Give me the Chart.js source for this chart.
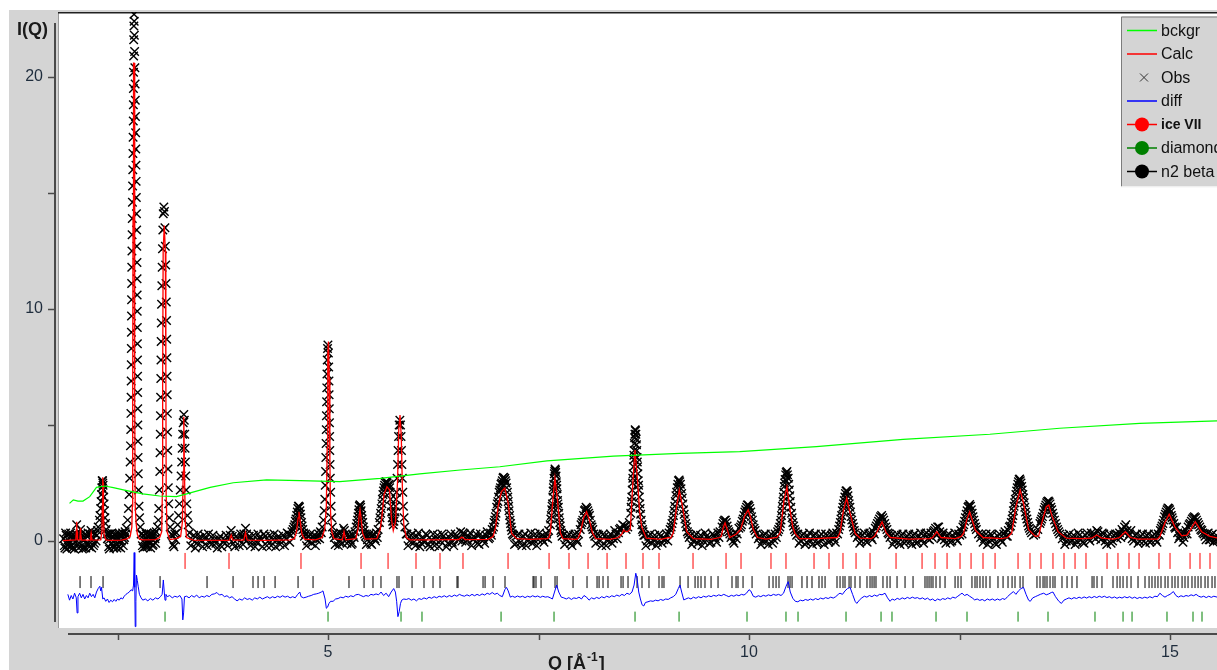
<!DOCTYPE html>
<html>
<head>
<meta charset="utf-8">
<script src="https://cdn.jsdelivr.net/npm/chart.js@4.4.1/dist/chart.umd.min.js"></script>
<style>
  html, body { margin: 0; padding: 0; background: #fff; }
  canvas { display: block; }
</style>
</head>
<body>
<canvas id="plot" width="1217" height="670"></canvas>
<script>
// axis ranges (Q in 1/Å, intensity I(Q))
const qRange = [1.793, 15.558];
const iRange = [-3.75, 22.8];

// background curve [Q, I]
const bckgr = [
  [1.93,1.62],[1.975,1.77],[2.03,1.72],[2.09,1.72],[2.17,1.91],[2.25,2.31],[2.35,2.37],[2.45,2.3],
  [2.61,2.17],[2.8,2.03],[3.0,1.94],[3.2,1.91],[3.32,2.03],[3.6,2.31],[3.875,2.51],[4.27,2.63],
  [4.67,2.6],[5.14,2.56],[5.62,2.7],[6.09,2.89],[6.57,3.06],[7.04,3.2],[7.6,3.45],[8.39,3.66],
  [9.18,3.78],[9.89,3.85],[10.8,4.07],[11.83,4.38],[12.86,4.6],[13.69,4.86],[14.64,5.07],[15.56,5.18]
];

// calculated pattern [Q, I]
const calc = [
  [1.85,0.02],[2.005,0.05],[2.012,0.5],[2.015,0.83],[2.019,0.4],[2.025,0.05],
  [2.052,0.05],[2.058,0.4],[2.061,0.56],[2.065,0.3],[2.072,0.04],
  [2.175,0.04],[2.182,0.25],[2.186,0.34],[2.19,0.2],[2.198,0.04],
  [2.3,0.05],[2.315,0.4],[2.32,1.5],[2.324,2.75],[2.329,2.5],[2.333,1.2],[2.34,0.3],[2.36,0.05],
  [2.4,0.03],[2.55,0.04],[2.62,0.1],[2.65,0.2],[2.67,0.6],[2.676,1.5],[2.68,6],[2.684,14],[2.69,20.6],
  [2.696,20.6],[2.702,14],[2.706,6],[2.71,1.5],[2.72,0.8],[2.735,0.3],[2.76,0.08],
  [2.8,0.05],[2.95,0.06],[3.0,0.15],[3.025,0.4],[3.032,2],[3.036,7],[3.042,12.5],[3.055,13.6],
  [3.068,12.5],[3.074,7],[3.078,2],[3.088,0.4],[3.12,0.06],[3.2,0.1],
  [3.25,0.2],[3.27,0.8],[3.28,3],[3.287,5.35],[3.295,3],[3.305,0.8],[3.32,0.15],
  [3.4,0.04],[3.8,0.03],[3.83,0.04],[3.85,0.26],[3.87,0.04],[4.0,0.04],[4.02,0.36],[4.04,0.04],
  [4.3,0.03],[4.55,0.05],[4.6,0.1],[4.625,0.4],[4.645,1.0],[4.655,1.26],[4.668,0.9],[4.69,0.3],[4.72,0.08],
  [4.85,0.05],[4.93,0.15],[4.96,0.5],[4.98,1.5],[4.99,4],[4.997,8],[5.005,8.6],[5.015,7],[5.022,3.5],
  [5.03,1.2],[5.045,0.4],[5.07,0.1],[5.17,0.05],[5.19,0.4],[5.21,0.05],
  [5.33,0.1],[5.355,0.5],[5.37,1.1],[5.38,1.34],[5.392,1.0],[5.41,0.35],[5.44,0.08],
  [5.58,0.1],[5.62,0.5],[5.64,1.05],[5.665,2.0],[5.7,2.34],[5.73,2.2],[5.755,0.9],[5.775,0.45],
  [5.8,0.8],[5.825,2.5],[5.84,4.8],[5.855,5.43],[5.87,4.5],[5.885,2],[5.9,0.7],[5.93,0.15],[5.97,0.05],
  [6.2,0.05],[6.5,0.06],[6.55,0.06],[6.59,0.17],[6.63,0.06],[6.9,0.07],
  [6.96,0.19],[6.99,0.6],[7.02,1.48],[7.06,2.13],[7.1,2.28],[7.14,1.62],[7.165,0.8],[7.18,0.33],[7.24,0.1],
  [7.4,0.07],[7.6,0.1],[7.62,0.12],[7.64,0.35],[7.67,1.77],[7.695,2.71],[7.725,1.77],[7.76,0.35],[7.79,0.1],
  [7.95,0.07],[7.97,0.12],[8.0,0.4],[8.035,1.0],[8.07,1.26],[8.105,0.9],[8.14,0.35],[8.18,0.1],
  [8.35,0.07],[8.45,0.15],[8.49,0.3],[8.51,0.47],[8.535,0.4],[8.555,0.4],[8.59,0.5],[8.62,2.5],
  [8.646,3.92],[8.678,2.5],[8.7,1.3],[8.726,0.6],[8.78,0.12],
  [8.95,0.07],[9.05,0.15],[9.07,0.12],[9.1,0.35],[9.14,1.48],[9.172,2.2],[9.21,1.48],[9.26,0.4],[9.34,0.1],
  [9.55,0.07],[9.65,0.15],[9.67,0.2],[9.695,0.6],[9.715,0.78],[9.74,0.5],[9.77,0.15],
  [9.85,0.3],[9.9,0.5],[9.95,1.1],[9.99,1.34],[10.02,1.0],[10.05,0.5],[10.1,0.15],[10.2,0.08],
  [10.33,0.15],[10.37,0.35],[10.416,1.77],[10.45,2.33],[10.487,1.34],[10.52,0.6],[10.546,0.33],[10.6,0.1],
  [10.8,0.1],[11.05,0.15],[11.08,0.35],[11.12,1.3],[11.16,1.85],[11.2,1.2],[11.26,0.33],[11.32,0.12],
  [11.45,0.1],[11.49,0.2],[11.52,0.4],[11.58,0.83],[11.63,0.35],[11.68,0.15],
  [11.9,0.08],[12.15,0.1],[12.18,0.15],[12.23,0.4],[12.28,0.15],[12.45,0.1],
  [12.52,0.2],[12.55,0.35],[12.585,0.9],[12.62,1.26],[12.655,0.85],[12.69,0.45],[12.78,0.15],
  [13.0,0.1],[13.07,0.15],[13.12,0.35],[13.17,1.48],[13.22,2.2],[13.26,1.62],[13.32,0.5],[13.4,0.2],[13.44,0.22],
  [13.475,0.75],[13.53,1.48],[13.56,1.55],[13.6,1.06],[13.67,0.4],[13.77,0.12],
  [13.95,0.1],[14.07,0.12],[14.13,0.26],[14.19,0.12],[14.33,0.08],[14.4,0.15],[14.47,0.4],[14.53,0.15],[14.62,0.08],
  [14.85,0.08],[14.88,0.2],[14.94,0.8],[14.99,1.15],[15.06,0.6],[15.14,0.22],[15.2,0.25],
  [15.24,0.47],[15.3,0.83],[15.375,0.4],[15.475,0.2],[15.56,0.13]
];

// observed points [Q, I]
const obs = [
  [1.86,0.1],[1.875,-0.3],[1.89,0.25],[1.905,-0.15],[1.92,0.3],[1.935,-0.1],[1.95,0.2],[1.965,-0.3],[1.98,0.15],
  [1.995,-0.05],[2.005,0.3],[2.015,0.7],[2.03,-0.15],[2.045,0.25],[2.06,0.5],[2.075,-0.2],[2.09,0.1],
  [2.1,-0.3],[2.115,0.3],[2.13,-0.1],[2.15,0.35],[2.165,-0.25],[2.185,0.45],[2.2,0.1],[2.215,-0.2],
  [2.235,0.3],[2.255,0.25],[2.27,0.6],[2.285,0.9],[2.3,1.4],[2.31,2.0],[2.318,2.6],[2.325,2.5],
  [2.332,2.2],[2.34,1.6],[2.35,1.0],[2.365,0.5],[2.38,0.1],[2.395,-0.25],[2.41,0.3],[2.425,-0.1],
  [2.44,0.2],[2.455,-0.3],[2.47,0.25],[2.485,-0.15],[2.5,0.1],[2.515,-0.25],[2.53,0.3],[2.545,0.0],
  [2.56,0.35],[2.575,0.05],[2.59,0.4],[2.605,0.55],[2.62,0.9],
  [2.63,1.4],[2.638,2.0],[2.645,2.7],[2.65,3.4],[2.654,4.1],[2.657,4.8],[2.659,5.5],[2.661,6.2],
  [2.662,6.9],[2.663,7.6],[2.664,8.3],[2.665,9.0],[2.666,9.7],[2.667,10.4],[2.668,11.1],[2.669,11.8],
  [2.671,12.5],[2.673,13.2],[2.675,13.9],[2.677,14.6],[2.679,15.3],[2.681,16.0],[2.683,16.7],[2.685,17.4],
  [2.687,18.1],[2.688,18.8],[2.689,19.5],[2.69,20.2],[2.691,20.9],[2.692,21.6],[2.694,22.2],[2.696,22.7],
  [2.698,22.4],[2.7,21.8],[2.703,21.1],[2.706,20.4],[2.709,19.7],[2.711,19.0],[2.713,18.3],[2.715,17.6],
  [2.717,16.9],[2.719,16.2],[2.721,15.5],[2.723,14.8],[2.725,14.1],[2.727,13.4],[2.729,12.7],[2.731,12.0],
  [2.732,11.3],[2.733,10.6],[2.734,9.9],[2.735,9.2],[2.736,8.5],[2.737,7.8],[2.738,7.1],[2.739,6.4],
  [2.74,5.7],[2.741,5.0],[2.742,4.3],[2.744,3.6],[2.746,2.9],[2.75,2.2],[2.755,1.5],[2.762,1.0],[2.77,0.6],[2.78,0.3],
  [2.795,-0.2],[2.81,0.25],[2.825,-0.1],[2.84,0.3],[2.855,-0.25],[2.87,0.15],[2.885,-0.05],[2.9,0.3],
  [2.915,-0.2],[2.93,0.25],[2.945,0.1],[2.96,0.4],[2.975,0.6],[2.985,0.9],
  [2.99,1.4],[2.997,2.2],[3.002,3.0],[3.005,3.8],[3.008,4.6],[3.01,5.4],[3.012,6.2],[3.014,7.0],
  [3.016,7.8],[3.018,8.6],[3.02,9.4],[3.023,10.2],[3.026,11.0],[3.03,11.8],[3.034,12.6],[3.038,13.4],
  [3.043,14.1],[3.05,14.4],[3.057,14.2],[3.063,13.5],[3.068,12.7],[3.072,11.9],[3.076,11.1],[3.079,10.3],
  [3.082,9.5],[3.084,8.7],[3.086,7.9],[3.088,7.1],[3.09,6.3],[3.092,5.5],[3.094,4.7],[3.096,3.9],
  [3.099,3.1],[3.103,2.3],[3.108,1.6],[3.115,1.0],[3.125,0.6],[3.14,0.3],
  [3.16,-0.15],[3.18,0.3],[3.2,0.35],[3.215,0.7],
  [3.225,1.1],[3.235,1.6],[3.245,2.2],[3.255,2.8],[3.262,3.4],[3.268,4.0],[3.274,4.6],[3.28,5.1],
  [3.287,5.45],[3.293,5.2],[3.298,4.6],[3.302,4.0],[3.306,3.4],[3.31,2.8],[3.315,2.2],[3.322,1.6],
  [3.33,1.1],[3.34,0.7],[3.355,0.35],
  [3.37,-0.2],[3.405,0.25],[3.44,-0.1],[3.475,0.15],[3.51,-0.25],[3.545,0.1],[3.58,0.3],[3.615,-0.15],
  [3.65,0.05],[3.685,-0.3],[3.72,0.2],[3.755,-0.05],[3.79,0.25],[3.825,0.1],[3.85,0.45],[3.875,-0.1],
  [3.91,0.2],[3.945,-0.2],[3.98,0.15],[4.0,0.3],[4.02,0.55],[4.045,0.05],[4.08,-0.2],[4.115,0.25],
  [4.15,-0.05],[4.185,0.15],[4.22,-0.25],[4.255,0.2],[4.29,0.0],[4.325,-0.2],[4.36,0.3],[4.395,0.05],
  [4.43,-0.15],[4.465,0.25],[4.5,0.1],[4.53,0.3],[4.56,0.25],
  [4.585,0.5],[4.605,0.7],[4.62,0.95],[4.635,1.25],[4.648,1.5],[4.66,1.45],[4.672,1.15],[4.685,0.8],[4.7,0.5],[4.72,0.2],
  [4.745,-0.2],[4.775,0.2],[4.805,-0.1],[4.835,0.25],[4.865,0.05],[4.89,0.3],[4.91,0.4],[4.93,0.6],[4.945,0.9],
  [4.955,1.3],[4.962,1.8],[4.967,2.4],[4.971,3.0],[4.974,3.6],[4.977,4.2],[4.979,4.8],[4.981,5.4],
  [4.983,6.0],[4.985,6.6],[4.987,7.2],[4.99,7.8],[4.994,8.3],[4.999,8.45],[5.004,8.1],[5.008,7.5],
  [5.011,6.9],[5.013,6.3],[5.015,5.7],[5.017,5.1],[5.019,4.5],[5.021,3.9],[5.024,3.3],[5.027,2.7],
  [5.031,2.1],[5.036,1.5],[5.043,1.0],[5.052,0.6],[5.065,0.3],
  [5.085,-0.15],[5.11,0.25],[5.135,-0.05],[5.16,0.2],[5.185,0.55],[5.205,0.3],[5.225,-0.1],[5.25,0.2],
  [5.275,-0.15],[5.3,0.25],[5.32,0.4],
  [5.335,0.6],[5.35,0.9],[5.362,1.2],[5.372,1.5],[5.383,1.55],[5.393,1.3],[5.405,0.95],[5.42,0.6],[5.435,0.3],
  [5.455,-0.15],[5.48,0.2],[5.505,-0.1],[5.53,0.25],[5.555,0.1],[5.575,0.35],[5.595,0.5],
  [5.61,0.8],[5.625,1.2],[5.64,1.6],[5.652,2.0],[5.665,2.3],[5.68,2.5],[5.695,2.55],[5.71,2.4],
  [5.725,2.45],[5.738,2.1],[5.75,1.5],[5.762,1.0],[5.775,0.7],[5.79,1.0],[5.802,1.5],[5.812,2.1],
  [5.82,2.7],[5.826,3.3],[5.832,3.9],[5.838,4.5],[5.845,5.0],[5.853,5.2],[5.861,5.0],[5.867,4.5],
  [5.872,3.9],[5.877,3.3],[5.882,2.7],[5.888,2.1],[5.895,1.5],[5.903,1.0],[5.913,0.6],[5.928,0.3],
  [5.95,-0.2],[5.985,0.25],[6.02,-0.05],[6.055,0.2],[6.09,-0.25],[6.125,0.1],[6.16,0.3],[6.195,-0.15],
  [6.23,0.05],[6.265,-0.2],[6.3,0.25],[6.335,0.0],[6.37,0.2],[6.405,-0.25],[6.44,0.15],[6.475,-0.05],
  [6.51,0.3],[6.545,0.05],[6.575,0.4],[6.605,0.35],[6.635,-0.05],[6.67,0.2],[6.705,-0.2],[6.74,0.15],
  [6.775,-0.1],[6.81,0.3],[6.845,0.05],[6.875,0.25],[6.905,0.1],[6.93,0.35],[6.95,0.5],
  [6.965,0.6],[6.98,0.9],[6.995,1.2],[7.01,1.6],[7.025,1.9],[7.04,2.2],[7.055,2.45],[7.07,2.6],
  [7.085,2.75],[7.1,2.7],[7.115,2.5],[7.13,2.1],[7.14,1.7],[7.15,1.3],[7.162,0.9],[7.175,0.6],[7.19,0.3],
  [7.215,-0.15],[7.25,0.25],[7.285,-0.05],[7.32,0.2],[7.355,-0.2],[7.39,0.15],[7.425,-0.1],[7.46,0.3],
  [7.495,0.05],[7.53,0.2],[7.565,-0.05],[7.595,0.3],[7.62,0.45],
  [7.64,0.7],[7.652,1.1],[7.662,1.5],[7.67,1.9],[7.677,2.3],[7.684,2.7],[7.692,3.0],[7.7,3.05],
  [7.708,2.8],[7.715,2.4],[7.722,2.0],[7.73,1.6],[7.74,1.2],[7.752,0.8],[7.765,0.45],[7.78,0.2],
  [7.81,-0.15],[7.845,0.2],[7.88,-0.1],[7.915,0.25],[7.95,0.05],[7.975,0.3],
  [7.995,0.5],[8.015,0.8],[8.035,1.1],[8.055,1.35],[8.075,1.4],[8.095,1.2],[8.115,0.9],[8.135,0.6],[8.155,0.3],
  [8.18,-0.1],[8.215,0.25],[8.25,-0.2],[8.285,0.2],[8.32,0.0],[8.355,0.3],[8.39,0.1],[8.42,0.3],[8.45,0.35],
  [8.475,0.55],[8.5,0.7],[8.52,0.65],[8.54,0.5],[8.56,0.6],[8.578,0.8],[8.595,1.2],[8.605,1.7],
  [8.613,2.2],[8.62,2.7],[8.627,3.2],[8.633,3.7],[8.639,4.2],[8.645,4.6],[8.652,4.75],[8.66,4.4],
  [8.667,3.9],[8.673,3.4],[8.68,2.9],[8.688,2.4],[8.697,1.9],[8.707,1.4],[8.72,0.9],[8.735,0.5],[8.75,0.25],
  [8.775,-0.2],[8.81,0.2],[8.845,-0.1],[8.88,0.25],[8.915,-0.05],[8.95,0.2],[8.985,0.05],[9.02,0.3],[9.05,0.35],
  [9.075,0.6],[9.095,0.9],[9.11,1.3],[9.125,1.7],[9.14,2.1],[9.155,2.45],[9.17,2.63],[9.185,2.45],
  [9.2,2.05],[9.215,1.6],[9.23,1.15],[9.248,0.75],[9.268,0.4],[9.29,0.15],
  [9.32,-0.15],[9.355,0.2],[9.39,-0.1],[9.425,0.25],[9.46,0.0],[9.495,0.2],[9.53,-0.1],[9.565,0.3],
  [9.6,0.1],[9.63,0.35],[9.655,0.4],
  [9.68,0.6],[9.7,0.85],[9.72,0.9],[9.74,0.65],[9.76,0.4],[9.785,0.15],
  [9.81,0.0],[9.835,0.35],[9.86,0.3],[9.88,0.55],[9.9,0.6],[9.92,0.85],[9.94,1.1],[9.96,1.35],
  [9.98,1.55],[10.0,1.5],[10.02,1.25],[10.04,0.9],[10.06,0.55],[10.085,0.3],[10.11,0.1],
  [10.14,-0.15],[10.175,0.25],[10.21,0.0],[10.245,0.2],[10.28,-0.1],[10.31,0.3],[10.34,0.4],
  [10.365,0.6],[10.38,0.9],[10.392,1.3],[10.403,1.7],[10.413,2.1],[10.423,2.5],[10.435,2.85],[10.45,3.0],
  [10.465,2.7],[10.478,2.2],[10.49,1.7],[10.505,1.2],[10.52,0.8],[10.54,0.5],[10.565,0.25],
  [10.595,-0.1],[10.63,0.25],[10.665,-0.15],[10.7,0.2],[10.735,0.0],[10.77,0.25],[10.805,-0.1],[10.84,0.2],
  [10.875,0.05],[10.91,0.3],[10.945,-0.05],[10.98,0.25],[11.01,0.1],[11.04,0.35],
  [11.065,0.5],[11.085,0.8],[11.1,1.1],[11.115,1.45],[11.13,1.75],[11.145,2.05],[11.16,2.17],[11.175,1.95],
  [11.19,1.6],[11.205,1.25],[11.22,0.9],[11.24,0.6],[11.26,0.35],[11.285,0.15],
  [11.315,-0.1],[11.35,0.25],[11.385,0.0],[11.42,0.3],[11.45,0.15],[11.475,0.4],
  [11.5,0.55],[11.525,0.75],[11.55,0.95],[11.575,1.1],[11.6,0.9],[11.625,0.6],[11.65,0.35],[11.675,0.15],
  [11.705,-0.15],[11.74,0.2],[11.775,-0.05],[11.81,0.25],[11.845,-0.1],[11.88,0.2],[11.915,0.0],[11.95,0.25],
  [11.985,-0.1],[12.02,0.2],[12.055,0.05],[12.09,0.3],[12.125,0.1],[12.16,0.35],[12.19,0.4],[12.215,0.55],
  [12.24,0.6],[12.265,0.4],[12.29,0.2],[12.32,0.05],[12.355,0.25],[12.39,-0.05],[12.425,0.2],[12.46,0.1],
  [12.49,0.3],[12.515,0.45],
  [12.54,0.6],[12.56,0.85],[12.58,1.15],[12.6,1.45],[12.62,1.57],[12.64,1.35],[12.66,1.05],[12.68,0.75],
  [12.7,0.5],[12.725,0.3],[12.75,0.15],
  [12.78,-0.05],[12.815,0.3],[12.85,0.0],[12.885,0.25],[12.92,-0.1],[12.955,0.2],[12.99,0.05],[13.025,0.3],
  [13.055,0.2],[13.08,0.45],
  [13.105,0.65],[13.125,0.95],[13.14,1.3],[13.155,1.65],[13.17,2.0],[13.185,2.3],[13.2,2.55],[13.215,2.67],
  [13.23,2.5],[13.245,2.2],[13.26,1.85],[13.275,1.45],[13.29,1.1],[13.31,0.8],[13.33,0.55],[13.355,0.35],
  [13.38,0.25],[13.405,0.3],[13.43,0.5],
  [13.455,0.75],[13.475,0.95],[13.495,1.2],[13.515,1.45],[13.535,1.65],[13.555,1.72],[13.575,1.6],[13.595,1.35],
  [13.615,1.05],[13.64,0.75],[13.665,0.5],[13.69,0.3],[13.72,0.1],
  [13.75,-0.15],[13.785,0.2],[13.82,-0.05],[13.855,0.25],[13.89,0.0],[13.925,0.25],[13.96,-0.05],[13.995,0.25],
  [14.03,0.1],[14.065,0.35],[14.1,0.3],[14.13,0.45],[14.16,0.2],[14.195,0.35],[14.23,0.0],[14.265,0.2],
  [14.3,-0.1],[14.335,0.25],[14.37,0.1],[14.4,0.35],[14.43,0.5],[14.46,0.6],[14.49,0.45],[14.52,0.3],
  [14.55,0.1],[14.585,0.25],[14.62,-0.1],[14.655,0.2],[14.69,0.0],[14.725,0.25],[14.76,-0.05],[14.795,0.2],
  [14.83,0.05],[14.86,0.3],[14.885,0.45],
  [14.905,0.65],[14.925,0.9],[14.945,1.15],[14.965,1.35],[14.985,1.4],[15.005,1.25],[15.025,1.0],[15.045,0.75],
  [15.065,0.55],[15.09,0.35],[15.115,0.2],[15.14,0.3],[15.165,0.15],[15.19,0.45],
  [15.215,0.6],[15.24,0.75],[15.265,0.95],[15.29,1.05],[15.315,0.9],[15.34,0.7],[15.365,0.5],[15.39,0.35],
  [15.415,0.2],[15.44,0.3],[15.465,0.05],[15.49,0.25],[15.515,-0.05],[15.54,0.15],[15.56,0.0]
];

// further observed points read between the ones above [Q, I]
const obsMore = [
  [1.868,-0.2],[1.883,0.35],[1.898,-0.35],[1.913,0.05],[1.928,-0.25],[1.943,0.35],[1.958,-0.2],[1.973,0.1],
  [1.988,-0.35],[2.0,0.2],[2.023,0.25],[2.038,-0.3],[2.053,0.15],[2.068,0.3],[2.083,-0.35],[2.108,0.05],
  [2.123,-0.3],[2.14,0.2],[2.158,-0.15],[2.175,0.3],[2.193,-0.3],[2.208,0.35],[2.225,-0.1],[2.245,0.0],
  [2.262,0.45],[2.292,1.1],[2.305,1.7],[2.314,2.3],[2.322,2.6],[2.328,2.4],[2.336,1.9],[2.345,1.3],
  [2.357,0.75],[2.372,0.3],[2.39,0.3],[2.403,-0.35],[2.418,0.1],[2.433,0.35],[2.448,-0.2],[2.463,0.05],
  [2.478,0.3],[2.493,-0.3],[2.508,0.3],[2.523,-0.05],[2.538,-0.3],[2.553,0.2],[2.568,-0.2],[2.583,0.15],
  [2.598,0.3],
  [2.788,0.3],[2.803,-0.3],[2.818,0.05],[2.833,-0.25],[2.848,0.35],[2.863,-0.05],[2.878,0.3],[2.893,-0.3],
  [2.908,0.1],[2.923,-0.15],[2.938,0.35],[2.953,-0.1],[3.15,0.25],[3.17,-0.25],[3.19,0.05],
  [3.388,0.05],[3.423,-0.3],[3.458,0.3],[3.493,0.0],[3.528,0.25],[3.563,-0.2],[3.598,0.0],[3.633,0.25],
  [3.668,-0.1],[3.703,0.1],[3.738,-0.25],[3.773,0.05],[3.808,-0.2],[3.838,0.25],[3.863,0.2],[3.893,-0.25],
  [3.928,0.1],[3.963,0.3],[3.99,-0.15],[4.01,0.1],[4.033,0.3],[4.063,0.2],[4.098,0.0],[4.133,-0.25],
  [4.168,0.3],[4.203,0.05],[4.238,0.3],[4.273,-0.2],[4.308,0.25],[4.343,0.05],[4.378,-0.25],[4.413,0.2],
  [4.448,0.05],[4.483,-0.2],[4.515,0.35],[4.545,-0.05],[4.572,0.4],
  [4.595,0.6],[4.612,0.85],[4.628,1.1],[4.642,1.4],[4.654,1.5],[4.666,1.3],[4.678,1.0],[4.692,0.65],[4.71,0.35],
  [4.733,0.3],[4.76,0.0],[4.79,0.3],[4.82,0.15],[4.85,-0.2],[4.878,0.15],[4.9,0.1],[4.92,0.35],
  [5.075,0.15],[5.098,0.3],[5.123,-0.2],[5.148,0.35],[5.172,-0.1],[5.195,0.45],[5.215,0.05],[5.238,0.3],
  [5.263,0.05],[5.288,-0.1],[5.31,0.15],
  [5.342,0.75],[5.356,1.05],[5.367,1.35],[5.378,1.55],[5.388,1.45],[5.399,1.1],[5.412,0.8],[5.428,0.45],
  [5.445,0.2],[5.468,0.05],[5.493,0.3],[5.518,-0.15],[5.543,0.3],[5.565,0.0],[5.585,0.15],
  [5.617,1.0],[5.632,1.4],[5.646,1.8],[5.658,2.15],[5.672,2.4],[5.688,2.55],[5.702,2.5],[5.717,2.35],
  [5.731,2.3],[5.744,1.8],[5.756,1.25],[5.768,0.85],[5.783,0.85],[5.796,1.25],[5.807,1.8],
  [5.938,0.3],[5.968,0.0],[6.003,0.3],[6.038,-0.2],[6.073,0.35],[6.108,-0.1],[6.143,-0.05],[6.178,0.25],
  [6.213,-0.25],[6.248,0.3],[6.283,0.05],[6.318,-0.25],[6.353,0.3],[6.388,0.05],[6.423,-0.1],[6.458,0.3],
  [6.493,-0.2],[6.528,0.2],[6.56,0.1],[6.59,0.0],[6.62,0.3],[6.653,0.05],[6.688,0.35],[6.723,0.05],
  [6.758,0.3],[6.793,-0.15],[6.828,0.15],[6.86,-0.1],[6.89,0.4],[6.918,0.15],[6.94,0.25],
  [6.972,0.8],[6.988,1.05],[7.003,1.45],[7.018,1.7],[7.033,2.1],[7.048,2.3],[7.063,2.5],[7.078,2.72],
  [7.093,2.65],[7.108,2.6],[7.122,2.3],[7.135,1.9],[7.145,1.5],[7.156,1.1],[7.168,0.75],[7.182,0.45],
  [7.203,0.25],[7.233,-0.1],[7.268,0.3],[7.303,-0.2],[7.338,0.3],[7.373,0.0],[7.408,0.35],[7.443,0.05],
  [7.478,-0.2],[7.513,0.35],[7.548,0.05],[7.58,0.15],[7.608,0.1],
  [7.646,0.95],[7.657,1.35],[7.666,1.6],[7.674,2.15],[7.681,2.45],[7.688,2.9],[7.696,3.1],[7.704,2.95],
  [7.711,2.55],[7.718,2.25],[7.726,1.75],[7.735,1.45],[7.746,1.0],[7.758,0.65],[7.772,0.35],
  [7.795,0.25],[7.828,0.05],[7.863,0.3],[7.898,-0.2],[7.933,0.3],[7.962,-0.05],
  [8.005,0.7],[8.025,0.9],[8.045,1.3],[8.065,1.45],[8.085,1.3],[8.105,1.1],[8.125,0.7],[8.145,0.5],
  [8.168,0.2],[8.198,0.3],[8.233,0.0],[8.268,0.3],[8.303,-0.2],[8.338,0.15],[8.373,-0.1],[8.405,0.45],
  [8.435,0.1],[8.462,0.5],
  [8.6,1.45],[8.609,1.9],[8.616,2.5],[8.623,2.9],[8.63,3.5],[8.636,3.9],[8.642,4.45],[8.648,4.8],
  [8.656,4.6],[8.663,4.15],[8.67,3.6],[8.676,3.2],[8.684,2.6],[8.692,2.2],[8.702,1.6],[8.713,1.15],
  [8.727,0.7],[8.742,0.4],
  [8.762,0.25],[8.793,0.0],[8.828,0.3],[8.863,0.05],[8.898,-0.2],[8.933,0.3],[8.968,-0.1],[9.003,0.1],
  [9.035,0.0],[9.063,0.5],
  [9.085,0.75],[9.103,1.1],[9.118,1.5],[9.132,1.95],[9.148,2.3],[9.162,2.6],[9.177,2.55],[9.192,2.25],
  [9.207,1.85],[9.222,1.35],[9.239,0.95],[9.258,0.6],[9.278,0.3],
  [9.305,0.25],[9.338,0.0],[9.373,0.3],[9.408,0.05],[9.443,-0.2],[9.478,0.35],[9.513,0.1],[9.548,-0.05],
  [9.583,0.25],[9.615,-0.05],[9.643,0.15],[9.69,0.75],[9.71,0.9],[9.73,0.8],[9.75,0.5],[9.772,0.3],
  [9.798,0.25],[9.822,-0.1],[9.848,0.1],
  [9.91,0.7],[9.93,0.95],[9.95,1.25],[9.97,1.45],[9.99,1.55],[10.01,1.4],[10.03,1.05],[10.05,0.7],[10.072,0.45],
  [10.125,0.2],[10.158,0.0],[10.193,0.3],[10.228,-0.15],[10.263,0.3],[10.295,0.05],[10.325,0.15],[10.352,0.5],
  [10.372,0.75],[10.386,1.1],[10.397,1.5],[10.408,1.9],[10.418,2.35],[10.429,2.65],[10.442,2.95],[10.457,2.85],
  [10.471,2.45],[10.484,1.95],[10.497,1.45],[10.512,1.0],[10.53,0.65],[10.552,0.4],
  [10.58,0.3],[10.613,0.0],[10.648,0.3],[10.683,-0.05],[10.718,0.35],[10.753,-0.15],[10.788,0.3],[10.823,-0.05],
  [10.858,0.3],[10.893,-0.15],[10.928,0.25],[10.963,0.0],[10.995,0.35],[11.025,-0.05],[11.052,0.3],
  [11.075,0.65],[11.092,0.95],[11.108,1.3],[11.122,1.6],[11.138,1.9],[11.152,2.15],[11.168,2.1],[11.182,1.75],
  [11.198,1.45],[11.212,1.05],[11.23,0.75],[11.25,0.45],
  [11.3,0.25],[11.333,0.0],[11.368,0.35],[11.403,-0.05],[11.435,0.35],[11.463,0.05],[11.488,0.3],
  [11.512,0.65],[11.538,0.85],[11.562,1.05],[11.588,1.0],[11.612,0.75],[11.638,0.5],[11.662,0.3],
  [11.69,0.25],[11.723,0.0],[11.758,0.3],[11.793,-0.15],[11.828,0.3],[11.863,0.0],[11.898,0.3],[11.933,-0.15],
  [11.968,0.3],[12.003,-0.05],[12.038,0.35],[12.073,-0.1],[12.108,0.35],[12.143,0.05],[12.175,0.15],[12.203,0.45],
  [12.228,0.25],[12.253,0.6],[12.278,0.1],[12.305,0.35],[12.338,-0.1],[12.373,0.3],[12.408,0.0],[12.443,0.35],
  [12.475,0.0],[12.503,0.25],[12.53,0.3],
  [12.55,0.7],[12.57,1.0],[12.59,1.3],[12.61,1.5],[12.63,1.5],[12.65,1.2],[12.67,0.9],[12.69,0.6],
  [12.765,0.3],[12.798,0.1],[12.833,-0.15],[12.868,0.3],[12.903,0.1],[12.938,-0.15],[12.973,0.3],[13.008,-0.05],
  [13.04,0.4],[13.068,0.2],[13.092,0.6],
  [13.115,0.8],[13.133,1.1],[13.148,1.5],[13.163,1.8],[13.178,2.15],[13.193,2.45],[13.208,2.65],[13.222,2.6],
  [13.238,2.35],[13.252,2.0],[13.268,1.65],[13.283,1.25],[13.3,0.95],[13.32,0.65],[13.342,0.45],
  [13.465,0.85],[13.485,1.05],[13.505,1.35],[13.525,1.55],[13.545,1.7],[13.565,1.68],[13.585,1.45],[13.605,1.2],
  [13.628,0.9],[13.652,0.6],[13.678,0.4],
  [13.735,0.25],[13.768,0.0],[13.803,0.3],[13.838,0.05],[13.873,-0.15],[13.908,0.35],[13.943,0.05],[13.978,-0.1],
  [14.013,0.35],[14.048,0.0],[14.083,0.2],[14.115,0.1],[14.145,0.4],[14.178,0.05],[14.213,0.3],[14.248,-0.15],
  [14.283,0.3],[14.318,0.0],[14.353,0.3],[14.385,0.25],[14.415,0.15],[14.445,0.4],[14.475,0.7],[14.505,0.2],
  [14.535,0.45],[14.568,0.0],[14.603,0.3],[14.638,0.0],[14.673,0.3],[14.708,-0.1],[14.743,0.3],[14.778,0.0],
  [14.813,0.3],[14.845,-0.05],[14.873,0.25],[14.895,0.55],
  [14.915,0.75],[14.935,1.05],[14.955,1.25],[14.975,1.42],[14.995,1.35],[15.015,1.1],[15.035,0.9],[15.055,0.6],
  [15.078,0.6],[15.103,0.1],[15.128,0.35],[15.153,-0.05],[15.178,0.3],[15.203,0.3],
  [15.228,0.7],[15.253,0.85],[15.278,1.0],[15.303,1.0],[15.328,0.8],[15.353,0.6],[15.378,0.45],[15.403,0.3],
  [15.428,0.05],[15.453,0.35],[15.478,0.05],[15.503,0.3],[15.528,0.0],[15.55,0.25]
];

// difference curve, already shifted below the pattern [Q, I]
const diff = [
  [1.91,-2.3],[1.93,-2.55],[1.95,-2.35],[1.97,-2.5],[1.99,-2.25],[2.01,-2.45],[2.02,-3.1],[2.03,-2.4],
  [2.05,-2.25],[2.07,-2.45],[2.09,-2.3],[2.11,-2.5],[2.13,-2.35],[2.15,-2.45],[2.17,-2.25],[2.19,-2.4],
  [2.21,-2.3],[2.23,-2.45],[2.25,-2.2],[2.27,-2.05],[2.29,-1.95],[2.3,-2.15],[2.31,-2.0],[2.325,-2.5],
  [2.34,-2.45],[2.36,-2.6],[2.38,-2.5],[2.4,-2.65],[2.42,-2.55],[2.44,-2.62],[2.46,-2.52],[2.48,-2.6],
  [2.5,-2.5],[2.52,-2.55],[2.54,-2.45],[2.56,-2.5],[2.58,-2.38],[2.6,-2.3],[2.62,-2.25],[2.64,-2.2],
  [2.66,-2.1],[2.68,-2.15],[2.69,-1.9],[2.698,-0.5],[2.705,-2.0],[2.71,-3.69],[2.718,-2.6],[2.725,-1.47],
  [2.735,-1.7],[2.745,-1.95],[2.76,-2.3],[2.78,-2.45],[2.8,-2.55],[2.83,-2.5],[2.86,-2.58],[2.89,-2.48],
  [2.92,-2.55],[2.95,-2.45],[2.98,-2.5],[3.01,-2.4],[3.03,-2.3],[3.044,-1.68],[3.055,-2.2],[3.064,-2.55],
  [3.075,-2.3],[3.09,-2.4],[3.12,-2.35],[3.15,-2.45],[3.18,-2.38],[3.21,-2.42],[3.24,-2.35],[3.265,-2.5],
  [3.275,-3.4],[3.285,-3.1],[3.295,-2.4],[3.32,-2.38],[3.35,-2.45],[3.38,-2.35],[3.41,-2.42],[3.44,-2.33],
  [3.47,-2.45],[3.5,-2.38],[3.53,-2.42],[3.56,-2.35],[3.59,-2.4],[3.62,-2.3],[3.65,-2.28],[3.68,-2.22],
  [3.71,-2.33],[3.74,-2.3],[3.77,-2.4],[3.8,-2.36],[3.83,-2.45],[3.86,-2.4],[3.89,-2.5],[3.92,-2.58],
  [3.95,-2.5],[3.98,-2.55],[4.01,-2.45],[4.04,-2.52],[4.07,-2.48],[4.1,-2.55],[4.13,-2.45],[4.16,-2.5],
  [4.19,-2.42],[4.22,-2.5],[4.25,-2.45],[4.28,-2.4],[4.31,-2.47],[4.34,-2.4],[4.37,-2.45],[4.4,-2.38],
  [4.43,-2.43],[4.46,-2.36],[4.49,-2.42],[4.52,-2.38],[4.55,-2.45],[4.58,-2.4],[4.61,-2.45],[4.64,-2.3],
  [4.665,-2.2],[4.68,-2.4],[4.71,-2.45],[4.74,-2.42],[4.77,-2.38],[4.8,-2.35],[4.83,-2.3],[4.86,-2.28],
  [4.89,-2.25],[4.92,-2.2],[4.94,-2.15],[4.965,-2.5],[4.98,-2.9],[4.995,-2.85],[5.01,-2.7],[5.03,-2.6],
  [5.06,-2.6],[5.09,-2.5],[5.12,-2.48],[5.15,-2.42],[5.18,-2.45],[5.21,-2.38],[5.24,-2.42],[5.27,-2.36],
  [5.3,-2.4],[5.33,-2.32],[5.36,-2.3],[5.39,-2.35],[5.42,-2.4],[5.45,-2.35],[5.48,-2.38],[5.51,-2.3],
  [5.54,-2.33],[5.57,-2.28],[5.6,-2.32],[5.63,-2.2],[5.66,-2.35],[5.69,-2.25],[5.72,-2.4],[5.75,-2.2],
  [5.78,-2.05],[5.8,-2.2],[5.815,-2.6],[5.83,-3.26],[5.845,-3.05],[5.86,-2.7],[5.875,-2.55],[5.9,-2.5],
  [5.93,-2.52],[5.96,-2.48],[5.99,-2.55],[6.02,-2.5],[6.05,-2.58],[6.08,-2.48],[6.11,-2.52],[6.14,-2.45],
  [6.17,-2.5],[6.2,-2.42],[6.23,-2.47],[6.26,-2.4],[6.29,-2.45],[6.32,-2.38],[6.35,-2.42],[6.38,-2.36],
  [6.41,-2.42],[6.44,-2.35],[6.47,-2.4],[6.5,-2.33],[6.53,-2.38],[6.56,-2.3],[6.59,-2.35],[6.62,-2.38],
  [6.65,-2.32],[6.68,-2.37],[6.71,-2.3],[6.74,-2.36],[6.77,-2.3],[6.8,-2.35],[6.83,-2.28],[6.86,-2.33],
  [6.89,-2.25],[6.92,-2.3],[6.95,-2.22],[6.98,-2.3],[7.01,-2.25],[7.04,-2.35],[7.07,-2.4],[7.1,-2.1],
  [7.12,-2.0],[7.14,-2.15],[7.165,-2.42],[7.19,-2.38],[7.22,-2.43],[7.25,-2.37],[7.28,-2.42],[7.31,-2.38],
  [7.34,-2.44],[7.37,-2.38],[7.4,-2.42],[7.43,-2.36],[7.46,-2.41],[7.49,-2.37],[7.52,-2.43],[7.55,-2.38],
  [7.58,-2.42],[7.61,-2.4],[7.64,-2.45],[7.665,-2.5],[7.69,-2.2],[7.715,-1.9],[7.74,-2.2],[7.77,-2.42],
  [7.8,-2.45],[7.83,-2.5],[7.86,-2.44],[7.89,-2.52],[7.92,-2.45],[7.95,-2.48],[7.98,-2.42],[8.01,-2.5],
  [8.04,-2.35],[8.07,-2.42],[8.1,-2.55],[8.13,-2.45],[8.16,-2.5],[8.19,-2.43],[8.22,-2.48],[8.25,-2.4],
  [8.28,-2.45],[8.31,-2.38],[8.34,-2.43],[8.37,-2.36],[8.4,-2.4],[8.43,-2.33],[8.46,-2.38],[8.49,-2.3],
  [8.52,-2.35],[8.55,-2.25],[8.58,-2.3],[8.61,-2.2],[8.635,-1.9],[8.655,-1.39],[8.67,-1.6],[8.69,-2.2],
  [8.71,-2.5],[8.73,-2.75],[8.75,-2.8],[8.77,-2.65],[8.8,-2.62],[8.83,-2.58],[8.86,-2.6],[8.89,-2.55],
  [8.92,-2.58],[8.95,-2.52],[8.98,-2.56],[9.01,-2.5],[9.04,-2.52],[9.07,-2.45],[9.1,-2.4],[9.13,-2.3],
  [9.16,-2.05],[9.18,-1.9],[9.2,-2.2],[9.225,-2.54],[9.25,-2.5],[9.28,-2.45],[9.31,-2.5],[9.34,-2.42],
  [9.37,-2.47],[9.4,-2.4],[9.43,-2.45],[9.46,-2.38],[9.49,-2.42],[9.52,-2.36],[9.55,-2.4],[9.58,-2.34],
  [9.61,-2.38],[9.64,-2.32],[9.67,-2.36],[9.7,-2.3],[9.73,-2.35],[9.76,-2.4],[9.79,-2.34],[9.82,-2.38],
  [9.85,-2.32],[9.88,-2.36],[9.91,-2.3],[9.94,-2.33],[9.97,-2.25],[10.0,-2.1],[10.02,-2.15],[10.05,-2.38],
  [10.08,-2.42],[10.11,-2.36],[10.14,-2.4],[10.17,-2.34],[10.2,-2.38],[10.23,-2.32],[10.26,-2.36],[10.29,-2.3],
  [10.32,-2.34],[10.35,-2.3],[10.38,-2.35],[10.41,-2.25],[10.44,-1.95],[10.465,-1.75],[10.49,-2.2],[10.52,-2.47],
  [10.55,-2.6],[10.58,-2.62],[10.61,-2.55],[10.64,-2.58],[10.67,-2.52],[10.7,-2.56],[10.73,-2.5],[10.76,-2.55],
  [10.79,-2.48],[10.82,-2.53],[10.85,-2.46],[10.88,-2.5],[10.91,-2.44],[10.94,-2.48],[10.97,-2.42],[11.0,-2.46],
  [11.03,-2.4],[11.06,-2.3],[11.08,-2.25],[11.11,-2.3],[11.14,-2.15],[11.17,-2.05],[11.2,-2.0],[11.23,-2.3],
  [11.26,-2.6],[11.28,-2.69],[11.31,-2.55],[11.34,-2.45],[11.37,-2.38],[11.4,-2.42],[11.43,-2.35],[11.46,-2.4],
  [11.49,-2.33],[11.52,-2.38],[11.55,-2.3],[11.58,-2.32],[11.615,-2.25],[11.645,-2.45],[11.675,-2.6],[11.7,-2.5],
  [11.73,-2.55],[11.76,-2.47],[11.79,-2.52],[11.82,-2.45],[11.85,-2.5],[11.88,-2.43],[11.91,-2.48],[11.94,-2.42],
  [11.97,-2.47],[12.0,-2.44],[12.03,-2.5],[12.06,-2.45],[12.09,-2.52],[12.12,-2.46],[12.15,-2.55],[12.18,-2.5],
  [12.21,-2.58],[12.24,-2.5],[12.27,-2.55],[12.3,-2.48],[12.33,-2.52],[12.36,-2.45],[12.39,-2.5],[12.42,-2.42],
  [12.45,-2.46],[12.48,-2.38],[12.51,-2.3],[12.53,-2.25],[12.56,-2.35],[12.59,-2.3],[12.62,-2.38],[12.65,-2.45],
  [12.68,-2.54],[12.71,-2.5],[12.74,-2.56],[12.77,-2.52],[12.8,-2.58],[12.83,-2.5],[12.86,-2.55],[12.89,-2.5],
  [12.92,-2.56],[12.95,-2.5],[12.98,-2.55],[13.01,-2.48],[13.04,-2.52],[13.07,-2.4],[13.1,-2.3],[13.14,-2.18],
  [13.17,-2.3],[13.2,-2.15],[13.23,-2.05],[13.26,-2.0],[13.29,-2.3],[13.32,-2.55],[13.34,-2.6],[13.37,-2.45],
  [13.4,-2.4],[13.43,-2.35],[13.46,-2.3],[13.5,-2.25],[13.53,-2.32],[13.56,-2.28],[13.59,-2.22],[13.61,-2.2],
  [13.64,-2.4],[13.68,-2.6],[13.71,-2.69],[13.74,-2.55],[13.77,-2.5],[13.8,-2.45],[13.83,-2.5],[13.86,-2.44],
  [13.89,-2.48],[13.92,-2.42],[13.95,-2.47],[13.98,-2.41],[14.01,-2.46],[14.04,-2.4],[14.07,-2.45],[14.1,-2.39],
  [14.13,-2.44],[14.16,-2.38],[14.19,-2.43],[14.22,-2.38],[14.25,-2.44],[14.28,-2.4],[14.31,-2.46],[14.34,-2.41],
  [14.37,-2.47],[14.4,-2.42],[14.43,-2.46],[14.46,-2.4],[14.49,-2.45],[14.52,-2.4],[14.55,-2.47],[14.58,-2.42],
  [14.61,-2.48],[14.64,-2.43],[14.67,-2.47],[14.7,-2.42],[14.73,-2.46],[14.76,-2.4],[14.79,-2.45],[14.82,-2.38],
  [14.85,-2.4],[14.88,-2.25],[14.91,-2.35],[14.94,-2.42],[14.97,-2.35],[15.0,-2.3],[15.04,-2.18],[15.07,-2.35],
  [15.1,-2.42],[15.13,-2.36],[15.16,-2.4],[15.19,-2.35],[15.22,-2.38],[15.25,-2.32],[15.28,-2.36],[15.31,-2.3],
  [15.34,-2.38],[15.37,-2.42],[15.4,-2.38],[15.43,-2.44],[15.46,-2.38],[15.49,-2.43],[15.52,-2.38],[15.56,-2.42]
];

// reflection positions (Q) of each phase
const iceVII = [
  3.302,3.824,4.679,5.392,5.713,6.045,6.330,6.603,7.138,7.625,7.862,8.088,8.314,8.539,8.741,8.931,
  9.335,9.727,9.905,10.261,10.439,10.772,10.950,11.116,11.271,11.437,11.746,12.055,12.209,12.352,
  12.506,12.637,12.779,12.922,13.195,13.337,13.468,13.610,13.741,13.872,14.002,14.252,14.382,14.513,
  14.632,14.869,15.0,15.238,15.356,15.475
];
const n2beta = [
  2.055,2.185,2.328,3.005,3.563,3.872,4.109,4.169,4.240,4.371,4.644,4.822,5.249,5.428,5.534,5.629,
  5.819,5.843,5.998,6.140,6.247,6.330,6.532,6.544,6.841,6.865,6.960,7.102,7.435,7.447,7.470,7.530,
  7.696,7.720,7.910,8.076,8.195,8.219,8.266,8.325,8.480,8.504,8.563,8.670,8.729,8.812,8.931,8.967,
  8.990,9.181,9.276,9.359,9.394,9.430,9.477,9.549,9.632,9.798,9.846,9.869,9.929,10.036,10.238,10.285,
  10.321,10.356,10.463,10.487,10.511,10.629,10.689,10.748,10.831,10.867,10.903,11.045,11.081,11.116,
  11.140,11.188,11.211,11.259,11.318,11.401,11.437,11.461,11.485,11.508,11.591,11.639,11.675,11.758,
  11.853,11.948,12.090,12.114,12.138,12.162,12.185,12.221,12.268,12.328,12.447,12.482,12.518,12.648,
  12.684,12.708,12.743,12.779,12.815,12.862,12.957,13.017,13.076,13.124,13.159,13.219,13.254,13.420,
  13.456,13.492,13.515,13.539,13.575,13.610,13.634,13.717,13.777,13.836,13.895,14.074,14.097,14.133,
  14.192,14.323,14.371,14.406,14.442,14.489,14.537,14.620,14.703,14.751,14.786,14.822,14.857,14.893,
  14.941,14.976,15.024,15.059,15.095,15.143,15.178,15.214,15.261,15.297,15.333,15.368,15.416,15.451,
  15.499,15.534
];
const diamond = [
  3.064,5.0,5.867,6.116,7.055,7.684,8.646,9.169,9.976,10.439,10.582,11.152,11.568,11.698,12.221,
  12.589,13.195,13.551,14.109,14.442,14.549,14.964,15.273,15.380
];

// vertical offsets of the reflection marker rows
const rowIce = -0.86, rowN2 = -1.77, rowDiamond = -3.26;

const FONT = '"Liberation Sans", Arial, sans-serif';
const LABEL_COLOR = '#1f2d3d';

const toXY = (arr) => arr.map(([x, y]) => ({ x: x, y: y }));
const onRow = (arr, row) => arr.map((q) => ({ x: q, y: row }));

// fixed axis box, no extra label padding
const fitScale = (size) => (s) => {
  if (s.isHorizontal()) s.height = size; else s.width = size;
  s.paddingLeft = 0; s.paddingRight = 0; s.paddingTop = 0; s.paddingBottom = 0;
};

const frame = {
  id: 'frame',
  beforeDraw(chart) {
    const ctx = chart.ctx;
    const a = chart.chartArea;
    ctx.save();
    ctx.fillStyle = '#fff';
    ctx.fillRect(0, 0, chart.width, chart.height);
    ctx.fillStyle = '#d4d4d4';
    ctx.fillRect(9, 10, chart.width - 9, chart.height - 10);
    ctx.fillStyle = '#fff';
    ctx.fillRect(a.left, a.top, a.right - a.left, a.bottom - a.top);

    ctx.strokeStyle = '#9a9a9a';
    ctx.lineWidth = 1;
    ctx.beginPath();
    ctx.moveTo(a.left + 0.5, a.top);
    ctx.lineTo(a.left + 0.5, a.bottom);
    ctx.stroke();
    ctx.strokeStyle = '#202020';
    ctx.lineWidth = 1.5;
    ctx.beginPath();
    ctx.moveTo(a.left, a.top + 0.75);
    ctx.lineTo(a.right, a.top + 0.75);
    ctx.stroke();
    ctx.restore();
  },
  afterDraw(chart) {
    const ctx = chart.ctx;
    const a = chart.chartArea;
    const xs = chart.scales.x;
    const ys = chart.scales.y;
    ctx.save();

    // axis lines, set off from the panel
    ctx.strokeStyle = '#4a4a4a';
    ctx.lineWidth = 2;
    ctx.beginPath();
    ctx.moveTo(a.left - 3, a.top + 11);
    ctx.lineTo(a.left - 3, a.bottom - 6);
    ctx.moveTo(a.left + 10, a.bottom + 6);
    ctx.lineTo(a.right, a.bottom + 6);
    ctx.stroke();

    ctx.lineWidth = 1.5;
    ctx.beginPath();
    ys.ticks.forEach((t) => {
      const y = Math.round(ys.getPixelForValue(t.value)) + 0.5;
      ctx.moveTo(a.left - 10, y);
      ctx.lineTo(a.left - 3, y);
    });
    xs.ticks.forEach((t) => {
      const x = Math.round(xs.getPixelForValue(t.value)) + 0.5;
      ctx.moveTo(x, a.bottom + 6);
      ctx.lineTo(x, a.bottom + 12);
    });
    ctx.stroke();

    // axis titles
    ctx.fillStyle = '#1a1a1a';
    ctx.textBaseline = 'alphabetic';
    ctx.textAlign = 'left';
    ctx.font = `bold 18px ${FONT}`;
    ctx.fillText('I(Q)', 17, 35);

    let tx = 548;
    const ty = 669;
    ctx.fillText('Q [Å', tx, ty);
    tx += ctx.measureText('Q [Å').width + 1;
    ctx.font = `bold 12px ${FONT}`;
    ctx.fillText('-1', tx, ty - 8);
    tx += ctx.measureText('-1').width + 1;
    ctx.font = `bold 18px ${FONT}`;
    ctx.fillText(']', tx, ty);

    // legend box
    const lx = 1121, ly = 16.5, lh = 170;
    ctx.fillStyle = '#d4d4d4';
    ctx.fillRect(lx, ly, chart.width - lx, lh);
    ctx.strokeStyle = '#7c7c7c';
    ctx.lineWidth = 1;
    ctx.beginPath();
    ctx.moveTo(lx + 0.5, ly + lh);
    ctx.lineTo(lx + 0.5, ly + 0.5);
    ctx.lineTo(chart.width, ly + 0.5);
    ctx.stroke();
    ctx.strokeStyle = '#f4f4f4';
    ctx.beginPath();
    ctx.moveTo(lx, ly + lh + 0.5);
    ctx.lineTo(chart.width, ly + lh + 0.5);
    ctx.stroke();

    const entries = [
      { text: 'bckgr', kind: 'line', color: '#00ff00' },
      { text: 'Calc', kind: 'line', color: '#ff0000' },
      { text: 'Obs', kind: 'cross', color: '#333' },
      { text: 'diff', kind: 'line', color: '#0000ff' },
      { text: 'ice VII', kind: 'dot', color: '#ff0000', bold: true },
      { text: 'diamond', kind: 'dot', color: '#008000' },
      { text: 'n2 beta', kind: 'dot', color: '#000000' },
    ];
    entries.forEach((e, i) => {
      const y = 30.5 + i * 23.5;
      if (e.kind !== 'cross') {
        ctx.strokeStyle = e.color;
        ctx.lineWidth = 1.5;
        ctx.beginPath();
        ctx.moveTo(1127, y);
        ctx.lineTo(1157, y);
        ctx.stroke();
      }
      if (e.kind === 'dot') {
        ctx.fillStyle = e.color;
        ctx.beginPath();
        ctx.arc(1142, y, 7, 0, 2 * Math.PI);
        ctx.fill();
      }
      if (e.kind === 'cross') {
        ctx.strokeStyle = e.color;
        ctx.lineWidth = 1;
        ctx.beginPath();
        ctx.moveTo(1140, y - 4);
        ctx.lineTo(1148, y + 4);
        ctx.moveTo(1148, y - 4);
        ctx.lineTo(1140, y + 4);
        ctx.stroke();
      }
      ctx.fillStyle = '#111';
      ctx.textBaseline = 'middle';
      ctx.font = e.bold ? `bold 14px ${FONT}` : `16px ${FONT}`;
      ctx.fillText(e.text, 1161, y + 1);
    });

    ctx.restore();
  },
};

Chart.defaults.font.family = FONT;

new Chart(document.getElementById('plot'), {
  type: 'scatter',
  data: {
    datasets: [
      {
        label: 'bckgr', data: toXY(bckgr), showLine: true, order: 1,
        borderColor: '#00ff00', borderWidth: 1.2, pointRadius: 0,
      },
      {
        label: 'Calc', data: toXY(calc), showLine: true, order: 2,
        borderColor: '#ff0000', borderWidth: 1.3, pointRadius: 0,
      },
      {
        label: 'diff', data: toXY(diff), showLine: true, order: 3,
        borderColor: '#0000ff', borderWidth: 1, pointRadius: 0,
      },
      {
        label: 'ice VII', data: onRow(iceVII, rowIce), order: 4,
        pointStyle: 'line', pointRotation: 90, pointRadius: 8,
        borderColor: '#ff0000', pointBorderColor: '#ff0000', pointBorderWidth: 1,
      },
      {
        label: 'n2 beta', data: onRow(n2beta, rowN2), order: 4,
        pointStyle: 'line', pointRotation: 90, pointRadius: 6,
        borderColor: '#000000', pointBorderColor: '#000000', pointBorderWidth: 1,
      },
      {
        label: 'diamond', data: onRow(diamond, rowDiamond), order: 4,
        pointStyle: 'line', pointRotation: 90, pointRadius: 5,
        borderColor: '#008000', pointBorderColor: '#008000', pointBorderWidth: 1,
      },
      {
        label: 'Obs', data: toXY(obs.concat(obsMore)), order: 6,
        pointStyle: 'crossRot', pointRadius: 6,
        borderColor: '#000', pointBorderColor: '#000', pointBorderWidth: 1.4,
      },
    ],
  },
  options: {
    responsive: false,
    animation: false,
    devicePixelRatio: 1,
    events: [],
    layout: { autoPadding: false, padding: { top: 12, left: 0, right: 0, bottom: 0 } },
    plugins: { legend: { display: false }, tooltip: { enabled: false } },
    scales: {
      x: {
        type: 'linear', position: 'bottom',
        min: qRange[0], max: qRange[1],
        grid: { display: false, drawTicks: false },
        border: { display: false },
        ticks: {
          stepSize: 2.5, includeBounds: false, padding: 15, color: LABEL_COLOR, font: { size: 16 },
          maxRotation: 0, autoSkip: false,
          callback: (v) => (Math.abs(v % 5) < 1e-6 ? String(v) : ''),
        },
        afterFit: fitScale(42),
      },
      y: {
        type: 'linear', position: 'left',
        min: iRange[0], max: iRange[1],
        grid: { display: false, drawTicks: false },
        border: { display: false },
        ticks: {
          stepSize: 5, includeBounds: false, padding: 15, color: LABEL_COLOR, font: { size: 16 },
          autoSkip: false,
          callback: (v) => (Math.abs(v % 10) < 1e-6 ? String(v) : ''),
        },
        afterFit: fitScale(58),
      },
    },
  },
  plugins: [frame],
});
</script>
</body>
</html>
